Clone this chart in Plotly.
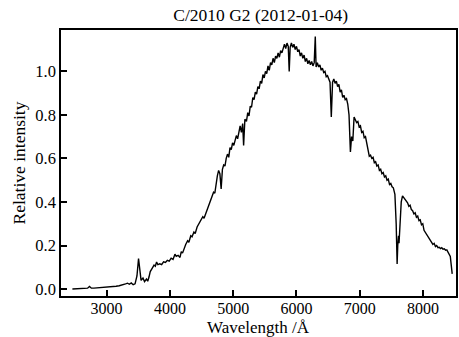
import plotly.graph_objects as go

wavelength = [
    2460, 2500, 2550, 2600, 2650, 2700, 2730, 2760, 2800, 2850, 2900, 2950, 3000, 3050, 3100, 3150,
    3200, 3250, 3300, 3330, 3360, 3390, 3420, 3450, 3480, 3505, 3525, 3545, 3575, 3600, 3630, 3650,
    3670, 3690, 3720, 3750, 3770, 3790, 3810, 3840, 3870, 3900, 3930, 3960, 3990, 4020, 4050, 4080,
    4100, 4130, 4160, 4180, 4200, 4230, 4250, 4280, 4300, 4330, 4350, 4380, 4400, 4430, 4460, 4490,
    4520, 4540, 4570, 4600, 4630, 4660, 4690, 4710, 4730, 4750, 4770, 4790, 4810, 4830, 4850, 4870,
    4890, 4910, 4930, 4950, 4970, 4990, 5010, 5030, 5050, 5070, 5090, 5110, 5130, 5150, 5165, 5185,
    5210, 5230, 5250, 5270, 5290, 5310, 5330, 5350, 5370, 5390, 5410, 5430, 5450, 5470, 5490, 5510,
    5530, 5550, 5570, 5590, 5610, 5630, 5650, 5670, 5690, 5710, 5730, 5750, 5770, 5790, 5810, 5830,
    5850, 5870, 5885, 5900, 5920, 5940, 5960, 5980, 6000, 6020, 6040, 6060, 6080, 6100, 6120, 6140,
    6160, 6180, 6200, 6220, 6240, 6260, 6280, 6297, 6310, 6330, 6350, 6370, 6390, 6410, 6430, 6450,
    6470, 6490, 6510, 6530, 6550, 6570, 6590, 6610, 6630, 6650, 6670, 6690, 6710, 6730, 6750, 6770,
    6790, 6810, 6830, 6852, 6870, 6890, 6910, 6930, 6950, 6970, 6990, 7010, 7030, 7050, 7070, 7090,
    7110, 7130, 7150, 7170, 7190, 7210, 7230, 7250, 7270, 7290, 7310, 7330, 7350, 7370, 7390, 7410,
    7430, 7450, 7470, 7490, 7510, 7530, 7555, 7575, 7590, 7600, 7612, 7620, 7635, 7655, 7675, 7695,
    7715, 7735, 7755, 7775, 7795, 7815, 7835, 7855, 7875, 7895, 7915, 7935, 7955, 7975, 7995, 8015,
    8035, 8055, 8075, 8095, 8115, 8135, 8155, 8175, 8195, 8215, 8235, 8255, 8275, 8295, 8315, 8335,
    8355, 8375, 8395, 8415, 8430, 8445, 8460,
]

intensity = [
    0.000, 0.001, 0.001, 0.002, 0.002, 0.004, 0.012, 0.004, 0.004, 0.005, 0.006, 0.008, 0.008, 0.010, 0.009, 0.013,
    0.015, 0.018, 0.024, 0.027, 0.022, 0.028, 0.020, 0.024, 0.060, 0.140, 0.080, 0.040, 0.050, 0.034, 0.046, 0.036,
    0.055, 0.080, 0.095, 0.110, 0.105, 0.124, 0.112, 0.116, 0.112, 0.125, 0.122, 0.132, 0.128, 0.142, 0.136, 0.160,
    0.150, 0.155, 0.145, 0.172, 0.165, 0.195, 0.205, 0.222, 0.215, 0.245, 0.240, 0.262, 0.255, 0.285, 0.300, 0.312,
    0.332, 0.325, 0.350, 0.375, 0.392, 0.420, 0.445, 0.440, 0.490, 0.520, 0.545, 0.530, 0.460, 0.550, 0.570, 0.565,
    0.600, 0.620, 0.605, 0.650, 0.640, 0.672, 0.660, 0.690, 0.705, 0.690, 0.725, 0.750, 0.720, 0.760, 0.660, 0.780,
    0.770, 0.810, 0.795, 0.840, 0.835, 0.880, 0.870, 0.905, 0.895, 0.930, 0.920, 0.955, 0.945, 0.985, 0.970, 1.000,
    0.990, 1.025, 1.005, 1.040, 1.030, 1.060, 1.040, 1.070, 1.060, 1.085, 1.065, 1.095, 1.085, 1.110, 1.125, 1.105,
    1.130, 1.115, 1.000, 1.110, 1.130, 1.110, 1.125, 1.100, 1.115, 1.090, 1.100, 1.070, 1.085, 1.060, 1.075, 1.045,
    1.060, 1.035, 1.050, 1.030, 1.045, 1.025, 1.040, 1.160, 1.020, 1.040, 1.020, 1.030, 1.005, 1.015, 0.995, 1.000,
    0.975, 0.980, 0.960, 0.950, 0.790, 0.950, 0.965, 0.945, 0.955, 0.930, 0.940, 0.905, 0.915, 0.880, 0.890, 0.870,
    0.875, 0.850, 0.800, 0.630, 0.700, 0.680, 0.790, 0.780, 0.765, 0.770, 0.745, 0.750, 0.720, 0.725, 0.695, 0.700,
    0.670, 0.640, 0.610, 0.615, 0.600, 0.605, 0.580, 0.585, 0.565, 0.570, 0.545, 0.550, 0.530, 0.535, 0.515, 0.520,
    0.500, 0.505, 0.480, 0.485, 0.470, 0.465, 0.435, 0.300, 0.115, 0.200, 0.245, 0.210, 0.330, 0.400, 0.428, 0.420,
    0.410, 0.400, 0.396, 0.380, 0.385, 0.365, 0.360, 0.345, 0.350, 0.330, 0.335, 0.314, 0.318, 0.295, 0.300, 0.270,
    0.260, 0.250, 0.240, 0.235, 0.220, 0.215, 0.205, 0.210, 0.195, 0.200, 0.190, 0.192, 0.186, 0.190, 0.183, 0.185,
    0.178, 0.180, 0.168, 0.160, 0.150, 0.110, 0.070,
]

title_text = "C/2010 G2 (2012-01-04)"
x_title = "Wavelength /Å"
y_title = "Relative intensity"
x_ticks = [3000, 4000, 5000, 6000, 7000, 8000]
y_ticks = [0.0, 0.2, 0.4, 0.6, 0.8, 1.0]

FONT = "Liberation Serif"

fig = go.Figure()
fig.add_trace(go.Scatter(x=wavelength, y=intensity, mode="lines",
                         line=dict(color="black", width=1.4), showlegend=False))

axis_common = dict(showline=True, linecolor="black", linewidth=1.5, mirror=True,
                   ticks="inside", ticklen=6, tickwidth=1.5, tickcolor="black",
                   showgrid=False, zeroline=False)

fig.update_layout(
    width=459, height=337,
    margin=dict(l=61, r=1, t=30, b=41),
    paper_bgcolor="white", plot_bgcolor="white",
    font=dict(family=FONT, size=17, color="black"),
    title=dict(text=title_text, x=0.568, xanchor="center", y=0.955, yanchor="middle",
               font=dict(family=FONT, size=17.5, color="black")),
    xaxis=dict(range=[2280, 8520], tickvals=x_ticks, ticktext=[str(v) for v in x_ticks],
               ticklabelstandoff=-3,
               tickfont=dict(family=FONT, size=16, color="black"), **axis_common),
    yaxis=dict(range=[-0.032, 1.19], tickvals=y_ticks, ticktext=[f"{v:.1f}" for v in y_ticks],
               tickfont=dict(family=FONT, size=16.5, color="black"),
               title=dict(text=y_title, standoff=5, font=dict(family=FONT, size=17.5)),
               **axis_common),
    annotations=[dict(text=x_title, xref="paper", yref="paper", x=0.5, y=0,
                      xanchor="center", yanchor="middle", yshift=-31, showarrow=False,
                      font=dict(family=FONT, size=17, color="black"))],
)

fig.write_html("out.html")
